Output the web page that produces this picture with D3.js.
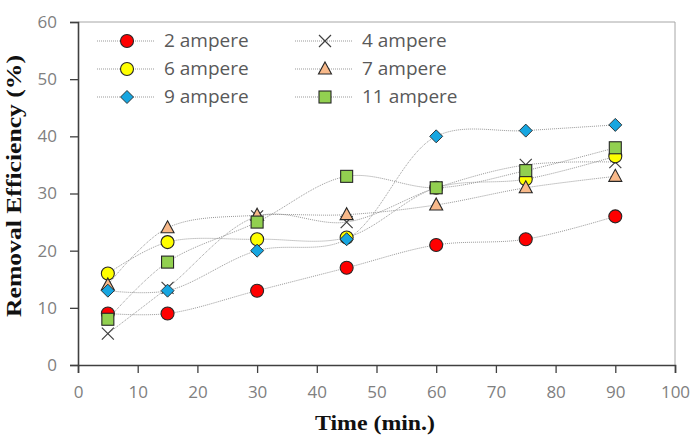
<!DOCTYPE html>
<html>
<head>
<meta charset="utf-8">
<script src="https://cdn.jsdelivr.net/npm/d3@7"></script>
<style>
  body { margin: 0; background: #fff; }
  svg { display: block; }
</style>
</head>
<body>
<svg id="chart"></svg>
<script>
// chart data
var times = [5, 15, 30, 45, 60, 75, 90];
var seriesNames = ["2 ampere", "4 ampere", "6 ampere", "7 ampere", "9 ampere", "11 ampere"];
var amp2 = [9, 9, 13, 17, 21, 22, 26];
var amp4 = [5.5, 13.5, 26, 25, 31, 35, 35.5];
var amp6 = [16, 21.5, 22, 22.3, 31, 32.5, 36.5];
var amp7 = [14, 24, 26.2, 26.3, 28, 31, 33];
var amp9 = [13, 13, 20, 22, 40, 41, 42];
var amp11 = [8, 18, 25, 33, 31, 34, 38];
var xTicks = [0, 10, 20, 30, 40, 50, 60, 70, 80, 90, 100];
var yTicks = [0, 10, 20, 30, 40, 50, 60];

var allValues = [amp2, amp4, amp6, amp7, amp9, amp11];

// marker look per series
var markers = [
  { shape: "circle", fill: "#ff0000" },
  { shape: "cross", fill: "none" },
  { shape: "circle", fill: "#ffff00" },
  { shape: "triangle", fill: "#f8b98a" },
  { shape: "diamond", fill: "#17a6e0" },
  { shape: "square", fill: "#92d050" }
];

var W = 691, H = 437;
var margin = { left: 78, right: 16, top: 22, bottom: 72 };

var svg = d3.select("#chart").attr("width", W).attr("height", H);

var x = d3.scaleLinear().domain([0, 100]).range([margin.left, W - margin.right]);
var y = d3.scaleLinear().domain([0, 60]).range([H - margin.bottom, margin.top]);

// plot frame (light top/right)
svg.append("path")
  .attr("d", "M" + x(0) + "," + y(60) + "H" + x(100) + "V" + y(0))
  .attr("fill", "none")
  .attr("stroke", "#a6a6a6")
  .attr("stroke-width", 1);

// axes
var xAxis = svg.append("g")
  .attr("transform", "translate(0," + y(0) + ")")
  .call(d3.axisBottom(x).tickValues(xTicks).tickSize(8).tickPadding(13));
var yAxis = svg.append("g")
  .attr("transform", "translate(" + x(0) + ",0)")
  .call(d3.axisLeft(y).tickValues(yTicks).tickSize(8).tickPadding(13));

[xAxis, yAxis].forEach(function(ax) {
  ax.select(".domain").attr("stroke", "#404040").attr("stroke-width", 1.6);
  ax.selectAll(".tick line").attr("stroke", "#404040").attr("stroke-width", 1.3);
  ax.selectAll("text")
    .attr("fill", "#808080")
    .style("font-family", "'Open Sans', sans-serif")
    .style("font-size", "17px");
});

// axis titles
svg.append("text")
  .attr("x", 375)
  .attr("y", 430)
  .attr("text-anchor", "middle")
  .attr("textLength", 120)
  .attr("lengthAdjust", "spacingAndGlyphs")
  .style("font-family", "'Liberation Serif', 'DejaVu Serif', serif")
  .style("font-weight", "bold")
  .style("font-size", "21px")
  .attr("fill", "#111")
  .text("Time (min.)");

svg.append("text")
  .attr("transform", "translate(21,186) rotate(-90)")
  .attr("text-anchor", "middle")
  .attr("textLength", 262)
  .attr("lengthAdjust", "spacingAndGlyphs")
  .style("font-family", "'Liberation Serif', 'DejaVu Serif', serif")
  .style("font-weight", "bold")
  .style("font-size", "22px")
  .attr("fill", "#111")
  .text("Removal Efficiency (%)");

var line = d3.line()
  .x(function(d, i) { return x(times[i]); })
  .y(function(d) { return y(d); })
  .curve(d3.curveCatmullRom.alpha(0.5));

function drawMarker(g, m, cx, cy) {
  if (m.shape == "circle") {
    g.append("circle").attr("cx", cx).attr("cy", cy).attr("r", 6.5)
      .attr("fill", m.fill).attr("stroke", "#262626").attr("stroke-width", 1.1);
  } else if (m.shape == "square") {
    g.append("rect").attr("x", cx - 6).attr("y", cy - 6).attr("width", 12).attr("height", 12)
      .attr("fill", m.fill).attr("stroke", "#262626").attr("stroke-width", 1.1);
  } else if (m.shape == "diamond") {
    g.append("path").attr("d", "M" + cx + "," + (cy - 6.5) + "L" + (cx + 6.5) + "," + cy + "L" + cx + "," + (cy + 6.5) + "L" + (cx - 6.5) + "," + cy + "Z")
      .attr("fill", m.fill).attr("stroke", "#262626").attr("stroke-width", 0.9);
  } else if (m.shape == "triangle") {
    g.append("path").attr("d", "M" + cx + "," + (cy - 7) + "L" + (cx + 6.5) + "," + (cy + 5) + "L" + (cx - 6.5) + "," + (cy + 5) + "Z")
      .attr("fill", m.fill).attr("stroke", "#262626").attr("stroke-width", 1.1);
  } else if (m.shape == "cross") {
    g.append("path").attr("d", "M" + (cx - 6) + "," + (cy - 6) + "L" + (cx + 6) + "," + (cy + 6) + "M" + (cx + 6) + "," + (cy - 6) + "L" + (cx - 6) + "," + (cy + 6))
      .attr("fill", "none").attr("stroke", "#404040").attr("stroke-width", 1.2);
  }
}

// lines first
allValues.forEach(function(vals) {
  svg.append("path")
    .datum(vals)
    .attr("d", line)
    .attr("fill", "none")
    .attr("stroke", "#999")
    .attr("stroke-width", 1)
    .attr("stroke-dasharray", "1,1");
});

// then markers
allValues.forEach(function(vals, s) {
  var g = svg.append("g");
  vals.forEach(function(v, i) {
    drawMarker(g, markers[s], x(times[i]), y(v));
  });
});

// legend, two columns
var legend = svg.append("g");
seriesNames.forEach(function(name, s) {
  var col = s % 2, row = Math.floor(s / 2);
  var lx = col == 0 ? 97 : 295;
  var ly = 41 + row * 28;
  legend.append("line")
    .attr("x1", lx).attr("x2", lx + 58).attr("y1", ly).attr("y2", ly)
    .attr("stroke", "#999").attr("stroke-width", 1).attr("stroke-dasharray", "1,1");
  drawMarker(legend, markers[s], lx + 30, ly);
  legend.append("text")
    .attr("x", lx + 67).attr("y", ly + 6)
    .attr("fill", "#595959")
    .style("font-family", "'Open Sans', sans-serif")
    .style("font-size", "19px")
    .text(name);
});
</script>
</body>
</html>
